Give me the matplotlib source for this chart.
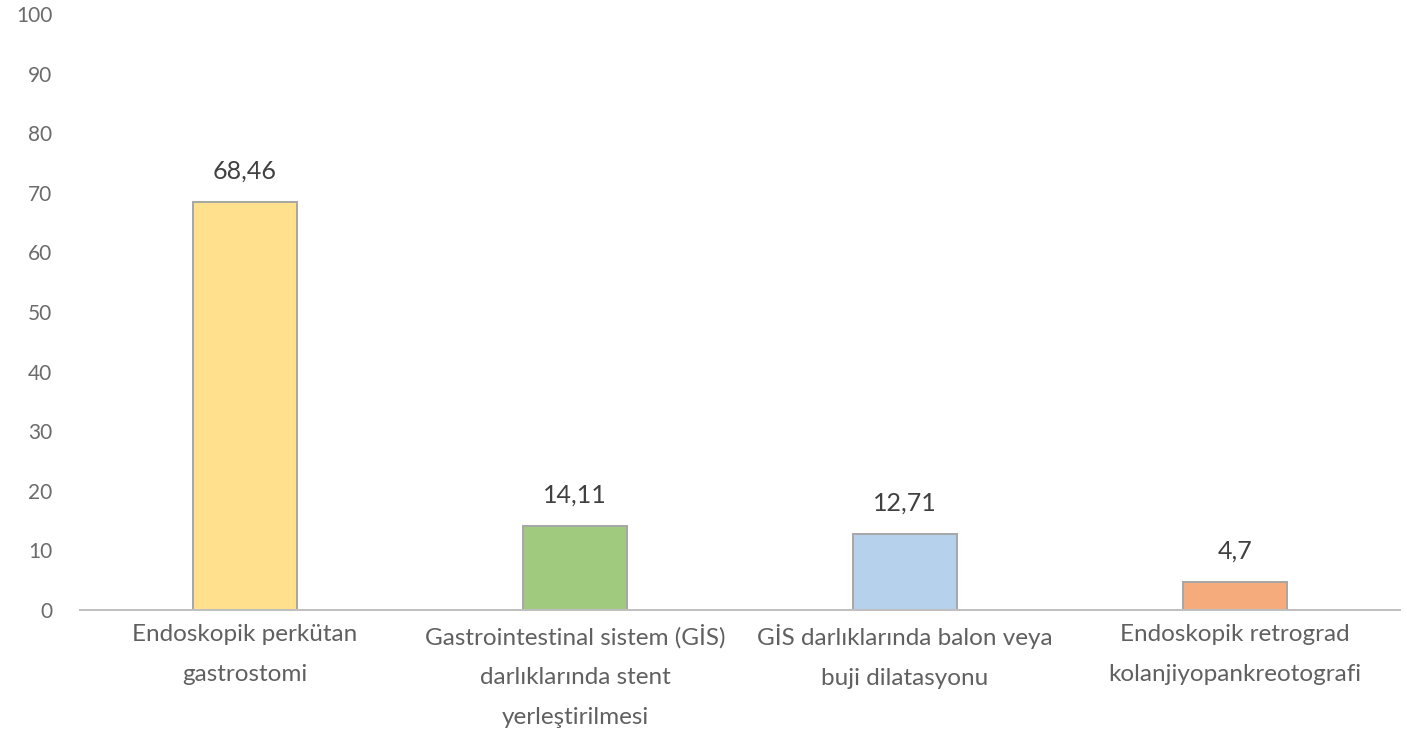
import matplotlib.pyplot as plt
import numpy as np

plt.rcParams['font.family'] = ['Lato', 'DejaVu Sans']

categories = [
    "Endoskopik perkütan\ngastrostomi",
    "Gastrointestinal sistem (GİS)\ndarlıklarında stent\nyerleştirilmesi",
    "GİS darlıklarında balon veya\nbuji dilatasyonu",
    "Endoskopik retrograd\nkolanjiyopankreotografi",
]
values = [68.46, 14.11, 12.71, 4.7]
value_labels = ["68,46", "14,11", "12,71", "4,7"]
colors = ["#FFE08C", "#A0CB7E", "#B6D1EC", "#F5AB7C"]

fig = plt.figure(figsize=(14.07, 7.31), dpi=100)
ax = fig.add_axes([80 / 1407, 1 - 610 / 731, 1320 / 1407, 596 / 731])

x = np.arange(len(values))
bars = ax.bar(x, values, width=0.315, color=colors, edgecolor="#A6A6A6", linewidth=1.4)

for b, lab in zip(bars, value_labels):
    ax.text(b.get_x() + b.get_width() / 2, b.get_height() + 3.3, lab,
            ha="center", va="bottom", fontsize=18, color="#404040")

ax.set_xlim(-0.5, 3.5)
ax.set_ylim(0, 100)
ax.set_yticks(range(0, 101, 10))
ax.tick_params(axis="y", length=0, pad=20, labelsize=15, labelcolor="#6b6b6b")
ax.set_xticks(x)
ax.set_xticklabels(categories, fontsize=17.5, color="#606060", linespacing=2.1)
ax.tick_params(axis="x", length=0, pad=10)

for s in ["top", "right", "left"]:
    ax.spines[s].set_visible(False)
ax.spines["bottom"].set_color("#BFBFBF")
ax.spines["bottom"].set_linewidth(1.4)

fig.savefig("out.png", dpi=100)
